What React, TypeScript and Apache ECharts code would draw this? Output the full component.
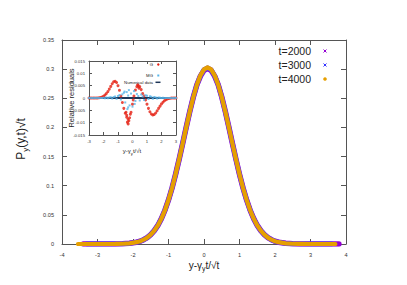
import React, { useEffect, useRef } from "react";
import * as echarts from "echarts";

// Main panel: x positions shared by the three times
const mainX = [-2.5, -2.3, -2.1, -1.9, -1.8, -1.7, -1.6, -1.5, -1.4, -1.3, -1.2, -1.1, -1.0, -0.9, -0.8, -0.7, -0.6, -0.5, -0.4, -0.3, -0.2, -0.1, 0, 0.1, 0.2, 0.3, 0.4, 0.5, 0.6, 0.7, 0.8, 0.9, 1.0, 1.1, 1.2, 1.3, 1.4, 1.5, 1.6, 1.7, 1.8, 1.9, 2.0, 2.1, 2.3, 2.5, 2.7, 3.0];

const t2000Y = [0.0001, 0.0004, 0.0012, 0.0031, 0.0048, 0.0074, 0.0110, 0.0161, 0.0229, 0.0319, 0.0435, 0.0580, 0.0756, 0.0961, 0.1196, 0.1454, 0.1727, 0.2004, 0.2274, 0.2522, 0.2732, 0.2880, 0.2980, 0.3010, 0.2980, 0.2880, 0.2732, 0.2522, 0.2274, 0.2004, 0.1727, 0.1454, 0.1196, 0.0961, 0.0756, 0.0580, 0.0435, 0.0319, 0.0229, 0.0161, 0.0110, 0.0074, 0.0048, 0.0031, 0.0012, 0.0004, 0.0001, 0];
const t3000Y = [0.0001, 0.0004, 0.0012, 0.0031, 0.0048, 0.0074, 0.0110, 0.0161, 0.0229, 0.0319, 0.0435, 0.0580, 0.0756, 0.0961, 0.1196, 0.1454, 0.1727, 0.2004, 0.2274, 0.2522, 0.2732, 0.2888, 0.2988, 0.3020, 0.2988, 0.2888, 0.2732, 0.2522, 0.2274, 0.2004, 0.1727, 0.1454, 0.1196, 0.0961, 0.0756, 0.0580, 0.0435, 0.0319, 0.0229, 0.0161, 0.0110, 0.0074, 0.0048, 0.0031, 0.0012, 0.0004, 0.0001, 0];
const t4000Y = [0.0001, 0.0004, 0.0012, 0.0031, 0.0048, 0.0074, 0.0110, 0.0161, 0.0229, 0.0319, 0.0435, 0.0580, 0.0756, 0.0961, 0.1196, 0.1454, 0.1727, 0.2004, 0.2274, 0.2522, 0.2732, 0.2894, 0.2996, 0.3030, 0.2996, 0.2894, 0.2732, 0.2522, 0.2274, 0.2004, 0.1727, 0.1454, 0.1196, 0.0961, 0.0756, 0.0580, 0.0435, 0.0319, 0.0229, 0.0161, 0.0110, 0.0074, 0.0048, 0.0031, 0.0012, 0.0004, 0.0001, 0];

// extent of the data (tails lie on zero)
const t2000Range = [-3.4, 3.8];
const t3000Range = [-3.3, 3.6];
const t4000Range = [-3.55, 3.7];

const legendLabels = ["t=2000", "t=3000", "t=4000"];

// Inset: relative residuals
const resX = [-3.0, -2.9, -2.8, -2.7, -2.6, -2.5, -2.4, -2.3, -2.2, -2.1, -2.0, -1.9, -1.8, -1.7, -1.6, -1.5, -1.4, -1.3, -1.2, -1.1, -1.0, -0.9, -0.8, -0.7, -0.6, -0.5, -0.4, -0.3, -0.2, -0.1, 0.0, 0.1, 0.2, 0.3, 0.4, 0.5, 0.6, 0.7, 0.8, 0.9, 1.0, 1.1, 1.2, 1.3, 1.4, 1.5, 1.6, 1.7, 1.8, 1.9, 2.0, 2.1, 2.2, 2.3, 2.4, 2.5, 2.6, 2.7, 2.8, 2.9, 3.0];
const gY = [
  0, 0, 0, 0, 0, 0, 0, 0.0001,
  0.0002, 0.0004, 0.0007, 0.0012, 0.0018, 0.0026, 0.0036, 0.0047, 0.0058, 0.0066,
  0.0068, 0.0063, 0.0050, 0.0031, 0.0008, -0.0018, -0.0042, -0.0062, -0.0078, -0.0086,
  -0.0080, -0.0058, -0.0025, 0.0008, 0.0032, 0.0046, 0.0050, 0.0046, 0.0034, 0.0018,
  0.0008, -0.0008, -0.0025, -0.0042, -0.0056, -0.0065, -0.0069, -0.0067, -0.0061, -0.0052,
  -0.0042, -0.0033, -0.0024, -0.0017, -0.0011, -0.0007, -0.0004, -0.0002, -0.0001, 0, 0, 0, 0,
];
const gExtraX = [-0.45, -0.4, -0.35, -0.3, -0.25, -0.15, 0.05, 0.35, 0.45];
const gExtraY = [-0.0058, -0.0070, -0.0098, -0.0105, -0.0092, -0.0066, -0.0008, 0.0054, 0.0040];
const mgY = [
  0, 0, 0, 0, 0, 0, 0, 0, 0, 0,
  0.0001, -0.0001, 0.0002, -0.0001, 0.0002, 0.0003, -0.0002, 0.0004, 0.0006, -0.0003,
  0.0008, 0.0012, -0.0006, 0.0015, 0.0021, -0.0018, 0.0024, 0.0010, -0.0030, 0.0018,
  -0.0035, 0.0028, -0.0012, 0.0016, 0.0008, -0.0010, 0.0014, 0.0006, -0.0008, 0.0011,
  0.0009, -0.0004, 0.0007, 0.0005, -0.0003, 0.0004, 0.0002, -0.0002, 0.0002, 0.0001,
  0, 0.0001, 0, 0, 0, 0, 0, 0, 0, 0, 0,
];
const mgExtraX = [-0.35, -0.3, -0.25, -0.55, 0.15];
const mgExtraY = [-0.0045, -0.0038, 0.0032, 0.0026, -0.0024];
const numX = [-3, -2, -1, 0, 1, 2, 3];
const numY = [0, 0, 0, 0, 0, 0, 0];
const insetLegend = ["G", "MG", "Numerical data"];

const FONT = "Liberation Sans, Arial, sans-serif";
const fmt = (v: number) => String(parseFloat(v.toFixed(4)));

const withTails = (ys: number[], range: number[]) => [
  [range[0], 0],
  ...mainX.map((x, i) => [x, ys[i]]),
  [range[1], 0],
];

export default function App() {
  const ref = useRef<HTMLDivElement>(null);
  useEffect(() => {
    document.body.style.margin = "0";
    const chart = echarts.init(ref.current!, undefined, { renderer: "svg" });
    const axisLine = { show: true, onZero: false, lineStyle: { color: "#555", width: 1 } };
    const mainTick = { show: true, inside: true, length: 5, lineStyle: { color: "#555" } };
    const insetTick = { show: true, inside: true, length: 3, lineStyle: { color: "#555" } };
    const mainLabel = { fontSize: 5.6, color: "#333", fontFamily: FONT, margin: 8, formatter: fmt };
    const insetLabel = { fontSize: 4.2, color: "#333", fontFamily: FONT, margin: 4, formatter: fmt };
    const cross = (cx: number, cy: number, color: string, s: number) => [
      { type: "line", z: 100, shape: { x1: cx - s, y1: cy - s, x2: cx + s, y2: cy + s }, style: { stroke: color, lineWidth: 1 } },
      { type: "line", z: 100, shape: { x1: cx - s, y1: cy + s, x2: cx + s, y2: cy - s }, style: { stroke: color, lineWidth: 1 } },
    ];
    chart.setOption({
      animation: false,
      backgroundColor: "#fff",
      grid: [
        { left: 62, right: 61, top: 40, bottom: 41, show: false },
        { left: 89, right: 231, top: 61, bottom: 150, show: true, backgroundColor: "#fff", borderWidth: 0 },
      ],
      xAxis: [
        { type: "value", gridIndex: 0, min: -4, max: 4, interval: 1, axisLine, axisTick: mainTick, axisLabel: mainLabel, splitLine: { show: false } },
        { type: "value", gridIndex: 0, position: "top", min: -4, max: 4, interval: 1, axisLine, axisTick: mainTick, axisLabel: { show: false }, splitLine: { show: false } },
        { type: "value", gridIndex: 1, min: -3, max: 3, interval: 1, axisLine, axisTick: insetTick, axisLabel: insetLabel, splitLine: { show: false } },
        { type: "value", gridIndex: 1, position: "top", min: -3, max: 3, interval: 1, axisLine, axisTick: insetTick, axisLabel: { show: false }, splitLine: { show: false } },
      ],
      yAxis: [
        { type: "value", gridIndex: 0, min: 0, max: 0.35, interval: 0.05, axisLine, axisTick: mainTick, axisLabel: mainLabel, splitLine: { show: false } },
        { type: "value", gridIndex: 0, position: "right", min: 0, max: 0.35, interval: 0.05, axisLine, axisTick: mainTick, axisLabel: { show: false }, splitLine: { show: false } },
        { type: "value", gridIndex: 1, min: -0.015, max: 0.015, interval: 0.005, axisLine, axisTick: insetTick, axisLabel: insetLabel, splitLine: { show: false } },
        { type: "value", gridIndex: 1, position: "right", min: -0.015, max: 0.015, interval: 0.005, axisLine, axisTick: insetTick, axisLabel: { show: false }, splitLine: { show: false } },
      ],
      series: [
        { name: legendLabels[0], type: "line", xAxisIndex: 0, yAxisIndex: 0, showSymbol: false, z: 2, data: withTails(t2000Y, t2000Range), lineStyle: { color: "#9400d3", width: 5.5, cap: "round", join: "round" } },
        { name: legendLabels[1], type: "line", xAxisIndex: 0, yAxisIndex: 0, showSymbol: false, z: 3, data: withTails(t3000Y, t3000Range), lineStyle: { color: "#4a4af0", width: 4.8, cap: "round", join: "round" } },
        { name: legendLabels[2], type: "line", xAxisIndex: 0, yAxisIndex: 0, showSymbol: false, z: 4, data: withTails(t4000Y, t4000Range), lineStyle: { color: "#e69f00", width: 4.2, cap: "round", join: "round" } },
        { name: insetLegend[2], type: "line", xAxisIndex: 2, yAxisIndex: 2, showSymbol: false, z: 5, data: numX.map((x, i) => [x, numY[i]]), lineStyle: { color: "#1d3557", width: 2 } },
        { name: insetLegend[0], type: "scatter", xAxisIndex: 2, yAxisIndex: 2, z: 6, symbol: "circle", symbolSize: 3, itemStyle: { color: "#e51e10" }, data: [...resX.map((x, i) => [x, gY[i]]), ...gExtraX.map((x, i) => [x, gExtraY[i]])] },
        { name: insetLegend[1], type: "scatter", xAxisIndex: 2, yAxisIndex: 2, z: 7, symbol: "rect", symbolSize: 2, itemStyle: { color: "#56b4e9" }, data: [...resX.map((x, i) => [x, mgY[i]]), ...mgExtraX.map((x, i) => [x, mgExtraY[i]])] },
      ],
      graphic: [
        // axis titles
        { type: "text", z: 100, x: 21, y: 139, rotation: Math.PI / 2, style: { text: "P{s|y}(y,t)√t", fontSize: 12, fontFamily: FONT, fill: "#222", align: "center", verticalAlign: "middle", rich: { s: { fontSize: 8, padding: [8, 0, 0, 0], fontFamily: FONT } } } },
        { type: "text", z: 100, x: 204, y: 265, style: { text: "y-γ{s|y}t/√t", fontSize: 10, fontFamily: FONT, fill: "#222", align: "center", verticalAlign: "middle", rich: { s: { fontSize: 7, padding: [6, 0, 0, 0], fontFamily: FONT } } } },
        { type: "text", z: 100, x: 71, y: 98, rotation: Math.PI / 2, style: { text: "Relative residuals", fontSize: 7.5, fontFamily: FONT, fill: "#222", align: "center", verticalAlign: "middle" } },
        { type: "text", z: 100, x: 132, y: 151, style: { text: "y-γ{s|y}t/√t", fontSize: 6, fontFamily: FONT, fill: "#222", align: "center", verticalAlign: "middle", rich: { s: { fontSize: 4.2, padding: [4, 0, 0, 0], fontFamily: FONT } } } },
        // main legend
        { type: "text", z: 100, x: 311, y: 51, style: { text: legendLabels[0], fontSize: 10.5, fontFamily: FONT, fill: "#222", align: "right", verticalAlign: "middle" } },
        { type: "text", z: 100, x: 311, y: 65, style: { text: legendLabels[1], fontSize: 10.5, fontFamily: FONT, fill: "#222", align: "right", verticalAlign: "middle" } },
        { type: "text", z: 100, x: 311, y: 79, style: { text: legendLabels[2], fontSize: 10.5, fontFamily: FONT, fill: "#222", align: "right", verticalAlign: "middle" } },
        ...cross(325, 51, "#9400d3", 1.5),
        ...cross(325, 65, "#3333ff", 1.5),
        { type: "circle", z: 100, shape: { cx: 325, cy: 79, r: 1.8 }, style: { fill: "#e69f00" } },
        // inset legend
        { type: "text", z: 100, x: 153, y: 64.5, style: { text: insetLegend[0], fontSize: 4.3, fontFamily: FONT, fill: "#222", align: "right", verticalAlign: "middle" } },
        { type: "text", z: 100, x: 153, y: 75.5, style: { text: insetLegend[1], fontSize: 4.3, fontFamily: FONT, fill: "#222", align: "right", verticalAlign: "middle" } },
        { type: "text", z: 100, x: 153, y: 82.3, style: { text: insetLegend[2], fontSize: 4.3, fontFamily: FONT, fill: "#222", align: "right", verticalAlign: "middle" } },
        { type: "circle", z: 100, shape: { cx: 158.3, cy: 64.5, r: 1.2 }, style: { fill: "#e51e10" } },
        { type: "rect", z: 100, shape: { x: 157.3, y: 74.5, width: 2, height: 2 }, style: { fill: "#56b4e9" } },
        { type: "line", z: 100, shape: { x1: 155.5, y1: 82.3, x2: 160.5, y2: 82.3 }, style: { stroke: "#1d3557", lineWidth: 1.5 } },
        { type: "circle", z: 100, shape: { cx: 162.5, cy: 82.3, r: 0.5 }, style: { fill: "#1d3557" } },
      ],
    });
    return () => chart.dispose();
  }, []);
  return <div ref={ref} style={{ width: 407, height: 285 }} />;
}
